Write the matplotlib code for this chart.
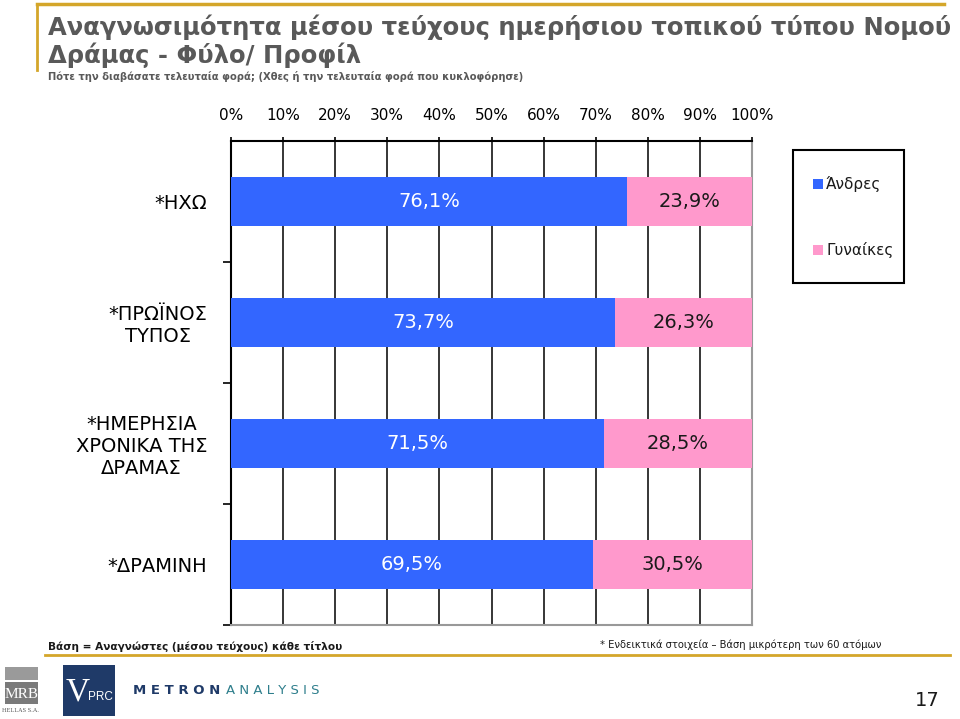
import matplotlib
matplotlib.use("Agg")
import matplotlib.pyplot as plt
from matplotlib import font_manager
from matplotlib.patches import Rectangle
from matplotlib.lines import Line2D
import numpy as np

categories = ["*ΗΧΩ", "*ΠΡΩΪΝΟΣ\nΤΥΠΟΣ", "*ΗΜΕΡΗΣΙΑ\nΧΡΟΝΙΚΑ ΤΗΣ\nΔΡΑΜΑΣ", "*ΔΡΑΜΙΝΗ"]
men = [76.1, 73.7, 71.5, 69.5]
women = [23.9, 26.3, 28.5, 30.5]
series_names = ["Άνδρες", "Γυναίκες"]
xticks = [0, 10, 20, 30, 40, 50, 60, 70, 80, 90, 100]

BLUE = "#3366FF"
PINK = "#FF99CC"
GOLD = "#D4A62A"
GRAY_T = "#595959"

try:
    font_manager.findfont(font_manager.FontProperties(family="Liberation Sans Narrow"),
                          fallback_to_default=False)
    NARROW = "Liberation Sans Narrow"
    nscale = 1.0
except Exception:
    NARROW = "DejaVu Sans"
    nscale = 0.8

W, H = 960, 719
fig = plt.figure(figsize=(9.6, 7.19), dpi=100)
fig.patch.set_facecolor("white")

def fx(px):
    return px / W

def fy(py):
    return 1 - py / H

ax = fig.add_axes([fx(231), fy(625), fx(752) - fx(231), fy(141) - fy(625)])
y = np.arange(len(categories))
ax.barh(y, men, height=0.4, color=BLUE, zorder=3)
ax.barh(y, women, left=men, height=0.4, color=PINK, zorder=3)
for i in range(len(categories)):
    ax.text(men[i] / 2, i, f"{men[i]:.1f}%".replace(".", ","), ha="center", va="center",
            color="white", fontsize=14, zorder=4)
    ax.text(men[i] + women[i] / 2, i, f"{women[i]:.1f}%".replace(".", ","), ha="center", va="center",
            color="#1a1a1a", fontsize=14, zorder=4)

ax.set_xlim(0, 100)
ax.set_ylim(len(categories) - 0.5, -0.5)
ax.xaxis.tick_top()
ax.set_xticks(xticks)
ax.set_xticklabels([f"{t}%" for t in xticks], fontsize=11)
ax.tick_params(axis="x", direction="out", length=3, width=1.2, pad=10, colors="black")
ax.grid(axis="x", color="black", lw=1.1, zorder=1)
ax.set_axisbelow(True)

ax.set_yticks([0.5, 1.5, 2.5, 3.5])
ax.set_yticklabels([])
ax.tick_params(axis="y", which="major", direction="out", length=6, width=1.2)
ax.set_yticks(y, minor=True)
ax.set_yticklabels(categories, minor=True, fontsize=14, multialignment="center")
ax.tick_params(axis="y", which="minor", length=0, pad=17)

ax.spines["top"].set_color("black")
ax.spines["top"].set_linewidth(1.5)
ax.spines["left"].set_color("black")
ax.spines["left"].set_linewidth(1.5)
ax.spines["right"].set_color("#999999")
ax.spines["right"].set_linewidth(1.5)
ax.spines["bottom"].set_color("#999999")
ax.spines["bottom"].set_linewidth(1.5)

# Legend box
fig.add_artist(Rectangle((fx(793), fy(283)), fx(904) - fx(793), fy(150) - fy(283),
                         transform=fig.transFigure, fill=False, edgecolor="black", lw=1.5))
for name, col, py in [(series_names[0], BLUE, 184), (series_names[1], PINK, 250)]:
    fig.add_artist(Rectangle((fx(813), fy(py + 5)), fx(10), 10 / H, transform=fig.transFigure,
                             facecolor=col, edgecolor="none"))
    fig.text(fx(826), fy(py), name, fontsize=11, va="center", ha="left", color="#1a1a1a")

# Title area
fig.add_artist(Line2D([fx(37), fx(944)], [fy(4), fy(4)], transform=fig.transFigure, color=GOLD, lw=2.5))
fig.add_artist(Line2D([fx(37), fx(37)], [fy(4), fy(70)], transform=fig.transFigure, color=GOLD, lw=2))
fig.text(fx(48), fy(27), "Αναγνωσιμότητα μέσου τεύχους ημερήσιου τοπικού τύπου Νομού",
         fontsize=17.5, fontweight="bold", color=GRAY_T, va="center", ha="left")
fig.text(fx(48), fy(55), "Δράμας - Φύλο/ Προφίλ",
         fontsize=17.5, fontweight="bold", color=GRAY_T, va="center", ha="left")
fig.text(fx(48), fy(77), "Πότε την διαβάσατε τελευταία φορά; (Χθες ή την τελευταία φορά που κυκλοφόρησε)",
         fontsize=9 * nscale, fontweight="bold", family=NARROW, color=GRAY_T, va="center", ha="left")

# Footer
fig.text(fx(48), fy(646), "Βάση = Αναγνώστες (μέσου τεύχους) κάθε τίτλου",
         fontsize=9.5 * nscale, fontweight="bold", family=NARROW, color="#1a1a1a", va="center", ha="left")
fig.text(fx(600), fy(645), "* Ενδεικτικά στοιχεία – Βάση μικρότερη των 60 ατόμων",
         fontsize=9 * nscale, family=NARROW, color="#1a1a1a", va="center", ha="left")
fig.add_artist(Line2D([fx(45), fx(950)], [fy(655), fy(655)], transform=fig.transFigure, color=GOLD, lw=2))

# Logos
fig.add_artist(Rectangle((fx(5), fy(680)), fx(33), 13 / H, transform=fig.transFigure,
                         facecolor="#9a9a9a", edgecolor="none"))
fig.add_artist(Rectangle((fx(5), fy(704)), fx(33), 22 / H, transform=fig.transFigure,
                         facecolor="#7a7a7a", edgecolor="none"))
fig.text(fx(21.5), fy(694), "MRB", fontsize=11, family="Liberation Serif", color="white",
         ha="center", va="center")
fig.text(fx(21), fy(711), "HELLAS S.A.", fontsize=4.5, family="Liberation Serif", color="#555555",
         ha="center", va="center")
fig.add_artist(Rectangle((fx(63), fy(716)), fx(52), 51 / H, transform=fig.transFigure,
                         facecolor="#1F3A68", edgecolor="none"))
fig.text(fx(66), fy(692), "V", fontsize=24, family="Liberation Serif", color="white",
         ha="left", va="center")
fig.text(fx(88), fy(697), "PRC", fontsize=8.5, family="Liberation Sans", color="white",
         ha="left", va="center")
fig.text(fx(133), fy(691), "M E T R O N", fontsize=9.5, fontweight="bold", color="#1F3A68",
         ha="left", va="center")
fig.text(fx(226), fy(691), "A N A L Y S I S", fontsize=9.5, color="#2E7E8C",
         ha="left", va="center")
fig.text(fx(940), fy(700), "17", fontsize=14, color="#1a1a1a", ha="right", va="center")

fig.savefig("out.png", dpi=100, facecolor="white")
